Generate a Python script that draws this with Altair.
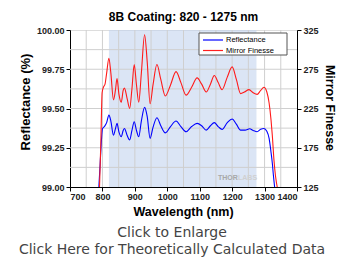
import altair as alt
import pandas as pd

# Reflectance (%) vs wavelength (nm)
refl_wl = [789, 793, 797, 800, 806, 813, 820, 826, 834, 840, 845, 851, 858, 864, 868, 876, 884, 891, 898, 905,
           912, 920, 930, 938, 947, 956, 968, 980, 994, 1010, 1027, 1042, 1058, 1075, 1092, 1106, 1120, 1133,
           1145, 1157, 1169, 1185, 1200, 1213, 1226, 1240, 1254, 1265, 1277, 1288, 1298, 1307, 1314, 1320,
           1324, 1327, 1331]
refl_val = [99.00, 99.15, 99.30, 99.37, 99.385, 99.41, 99.458, 99.42, 99.33, 99.37, 99.405, 99.35, 99.32, 99.36,
            99.373, 99.33, 99.30, 99.36, 99.416, 99.36, 99.32, 99.42, 99.507, 99.45, 99.31, 99.38, 99.441, 99.39,
            99.345, 99.385, 99.42, 99.385, 99.352, 99.385, 99.405, 99.39, 99.362, 99.39, 99.41, 99.385, 99.367,
            99.41, 99.433, 99.40, 99.362, 99.362, 99.371, 99.36, 99.352, 99.368, 99.373, 99.355, 99.31, 99.22,
            99.15, 99.08, 99.00]

# Mirror finesse vs wavelength (nm)
fin_wl = [791, 795, 799, 803, 808, 813, 820, 826, 834, 840, 845, 851, 858, 864, 868, 876, 884, 891, 898, 905,
          912, 920, 930, 938, 947, 956, 968, 980, 994, 1010, 1027, 1042, 1058, 1075, 1092, 1106, 1120, 1133,
          1145, 1157, 1169, 1185, 1200, 1213, 1226, 1238, 1252, 1265, 1277, 1288, 1298, 1307, 1314, 1320,
          1324, 1329, 1334, 1339]
fin_val = [125, 180, 245, 252, 256, 270, 289, 270, 236, 248, 263, 243, 233, 248, 251, 238, 225, 250, 281, 255,
           233, 270, 319, 285, 231, 255, 281, 262, 241, 255, 272, 258, 242, 252, 264, 256, 246, 256, 267, 258,
           249, 265, 278, 262, 244, 246, 249, 245, 243, 248, 252, 246, 232, 210, 190, 159, 138, 125]

band_start = [820]
band_end = [1275]
grid_x = [750, 800, 850, 900, 950, 1000, 1050, 1100, 1150, 1200, 1250, 1300, 1350]
grid_y = [99.125, 99.25, 99.375, 99.5, 99.625, 99.75, 99.875]
x_ticks = [700, 800, 900, 1000, 1100, 1200, 1300, 1400]
refl_ticks = [99.0, 99.25, 99.5, 99.75, 100.0]
fin_ticks = [125, 175, 225, 275, 325]

W, H = 227, 157
FONT = "Liberation Sans"

refl_df = pd.DataFrame({"wl": refl_wl, "v": refl_val})
fin_df = pd.DataFrame({"wl": fin_wl, "v": fin_val})
band_df = pd.DataFrame({"a": band_start, "b": band_end})
gx_df = pd.DataFrame({"g": grid_x})
gy_df = pd.DataFrame({"g": grid_y})
dummy = pd.DataFrame({"k": [0]})

xscale = alt.Scale(domain=[700, 1400], nice=False)
yscale = alt.Scale(domain=[99, 100], nice=False, zero=False)
fscale = alt.Scale(domain=[125, 325], nice=False, zero=False)

xaxis = alt.Axis(values=x_ticks, format="d", grid=False, title=None, labelFontSize=9,
                 labelFontWeight="bold", labelColor="#222", labelFont=FONT, tickColor="black",
                 domainColor="black", tickSize=4, labelPadding=1)
yaxis = alt.Axis(values=refl_ticks, format=".2f", grid=False, title=None, labelFontSize=9,
                 labelFontWeight="bold", labelColor="#222", labelFont=FONT, tickColor="black",
                 domainColor="black", tickSize=4, labelPadding=2)
faxis = alt.Axis(values=fin_ticks, format="d", grid=False, title=None, orient="right", labelFontSize=9,
                 labelFontWeight="bold", labelColor="#222", labelFont=FONT, tickColor="black",
                 domainColor="black", tickSize=4, labelPadding=2)

band = alt.Chart(band_df).mark_rect(color="#c3d3ef", opacity=0.6).encode(
    x=alt.X("a:Q", scale=xscale, axis=xaxis), x2="b:Q", y=alt.value(0), y2=alt.value(H))

vgrid = alt.Chart(gx_df).mark_rule(color="#cfcfcf", strokeWidth=1).encode(
    x=alt.X("g:Q", scale=xscale, axis=xaxis))
hgrid = alt.Chart(gy_df).mark_rule(color="#cfcfcf", strokeWidth=1).encode(
    y=alt.Y("g:Q", scale=yscale, axis=yaxis))

blue = alt.Chart(refl_df).mark_line(color="#0000ff", strokeWidth=1.1, interpolate="monotone").encode(
    x=alt.X("wl:Q", scale=xscale, axis=xaxis), y=alt.Y("v:Q", scale=yscale, axis=yaxis))

def txt(s, x, y, size, weight="normal", color="black", angle=0, align="center", font=FONT):
    return alt.Chart(dummy).mark_text(text=s, fontSize=size, fontWeight=weight, color=color, angle=angle,
                                      align=align, baseline="middle", font=font).encode(
        x=alt.value(x), y=alt.value(y))

leg_box = alt.Chart(dummy).mark_rect(fill="white", stroke="#555", strokeWidth=1).encode(
    x=alt.value(129), x2=alt.value(217), y=alt.value(3), y2=alt.value(25))
leg_b = alt.Chart(dummy).mark_rule(color="#0000ff", strokeWidth=1.2).encode(
    x=alt.value(133), x2=alt.value(153), y=alt.value(10))
leg_r = alt.Chart(dummy).mark_rule(color="#ff2020", strokeWidth=1.2).encode(
    x=alt.value(133), x2=alt.value(153), y=alt.value(20.5))

left = alt.layer(
    band, vgrid, hgrid, blue,
    leg_box, leg_b, leg_r,
    txt("Reflectance", 156, 10, 7.5, align="left"),
    txt("Mirror Finesse", 156, 20.5, 7.5, align="left"),
    txt("THOR", 148, 148, 7, weight="bold", color="#a8a8a8", align="left"),
    txt("LABS", 168, 148, 7, weight="bold", color="#d0d0d0", align="left"),
    txt("8B Coating: 820 - 1275 nm", 113.5, -13, 12, weight="bold"),
    txt("Reflectance (%)", -44, 72, 13, weight="bold", angle=270),
    txt("Mirror Finesse", 260, 78, 12.5, weight="bold", angle=90),
    txt("Wavelength (nm)", 113.5, 182, 12.5, weight="bold"),
    txt("Click to Enlarge", 102, 203, 14, color="#444", font="DejaVu Sans"),
    txt("Click Here for Theoretically Calculated Data", 102, 220, 14, color="#444", font="DejaVu Sans"),
)

red = alt.Chart(fin_df).mark_line(color="#ff1a1a", strokeWidth=1.1, interpolate="monotone").encode(
    x=alt.X("wl:Q", scale=xscale, axis=xaxis), y=alt.Y("v:Q", scale=fscale, axis=faxis))

chart = alt.layer(left, red).resolve_scale(y="independent").properties(
    width=W, height=H,
    autosize=alt.AutoSizeParams(type="none"),
    padding={"left": 62, "top": 22, "right": 40, "bottom": 73},
).configure_view(stroke="black", strokeWidth=1).configure(background="white")

chart.save("out.html", embed_options={"renderer": "svg", "actions": False})
